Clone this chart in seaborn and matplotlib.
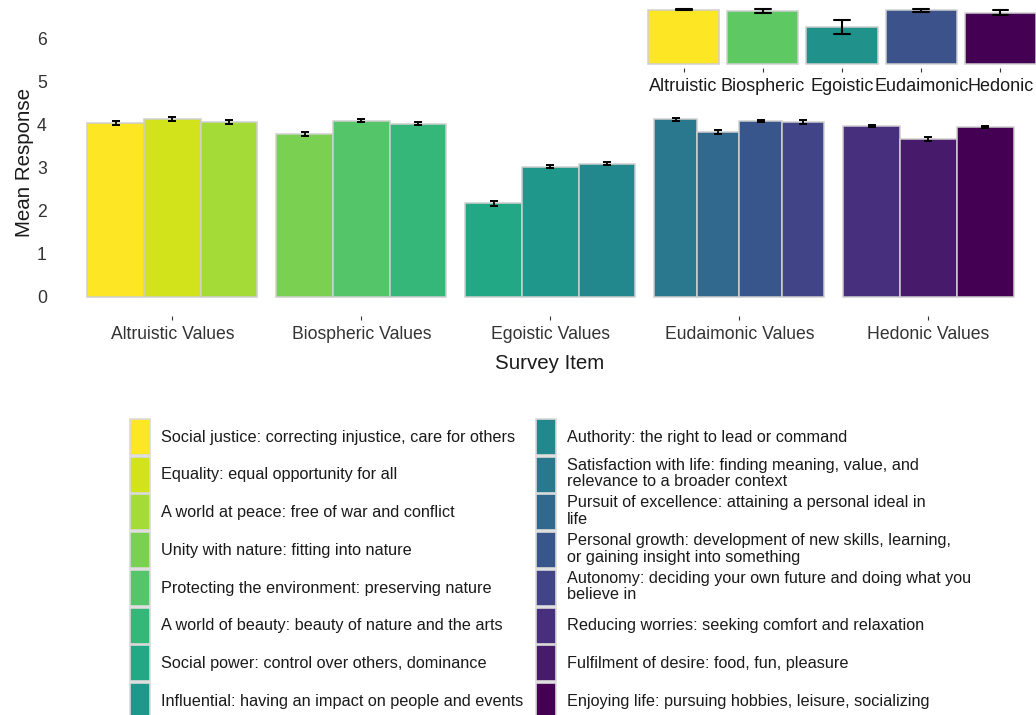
import numpy as np
import pandas as pd
import matplotlib
matplotlib.use("Agg")
import matplotlib.pyplot as plt
import matplotlib.patches as mpatches
import seaborn as sns

# ---- data -------------------------------------------------------------
groups = ["Altruistic Values", "Biospheric Values", "Egoistic Values",
          "Eudaimonic Values", "Hedonic Values"]
group_short = ["Altruistic", "Biospheric", "Egoistic", "Eudaimonic", "Hedonic"]

item_group = (["Altruistic Values"] * 3 + ["Biospheric Values"] * 3 +
              ["Egoistic Values"] * 3 + ["Eudaimonic Values"] * 4 +
              ["Hedonic Values"] * 3)

item_labels = [
    "Social justice: correcting injustice, care for others",
    "Equality: equal opportunity for all",
    "A world at peace: free of war and conflict",
    "Unity with nature: fitting into nature",
    "Protecting the environment: preserving nature",
    "A world of beauty: beauty of nature and the arts",
    "Social power: control over others, dominance",
    "Influential: having an impact on people and events",
    "Authority: the right to lead or command",
    "Satisfaction with life: finding meaning, value, and\nrelevance to a broader context",
    "Pursuit of excellence: attaining a personal ideal in\nlife",
    "Personal growth: development of new skills, learning,\nor gaining insight into something",
    "Autonomy: deciding your own future and doing what you\nbelieve in",
    "Reducing worries: seeking comfort and relaxation",
    "Fulfilment of desire: food, fun, pleasure",
    "Enjoying life: pursuing hobbies, leisure, socializing",
]

item_means = [4.03, 4.12, 4.06,
              3.78, 4.09, 4.02,
              2.17, 3.02, 3.09,
              4.12, 3.83, 4.08, 4.06,
              3.96, 3.66, 3.94]

item_se = [0.04, 0.04, 0.04,
           0.04, 0.03, 0.03,
           0.06, 0.04, 0.04,
           0.03, 0.05, 0.03, 0.04,
           0.03, 0.05, 0.03]

# ---- styling ----------------------------------------------------------
sns.set_theme(style="white")
plt.rcParams["font.family"] = ["Liberation Sans", "DejaVu Sans"]

cmap = plt.get_cmap("viridis")
item_colors = [cmap(v) for v in np.linspace(1, 0, len(item_labels))]
group_colors = [cmap(v) for v in np.linspace(1, 0, len(groups))]
edge_grey = "#cfcfcf"
text_dark = "#333333"

df = pd.DataFrame({"group": item_group, "item": item_labels,
                   "mean": item_means, "se": item_se})
df["short"] = df["group"].map(dict(zip(groups, group_short)))

# dodge items side by side within each group (total group width 0.9)
dodge_width = 0.9
n_in_group = df.groupby("group", sort=False)["item"].transform("size")
k_in_group = df.groupby("group", sort=False).cumcount()
g_index = df["group"].map({g: i for i, g in enumerate(groups)})
df["x"] = g_index + (k_in_group - (n_in_group - 1) / 2) * dodge_width / n_in_group

W, H = 1036, 715
fig = plt.figure(figsize=(W / 100, H / 100), dpi=100)
fig.patch.set_facecolor("white")


def px_axes(left, top, right, bottom):
    return fig.add_axes([left / W, 1 - bottom / H, (right - left) / W, (bottom - top) / H])


# ---- main grouped bar chart --------------------------------------------
ax = px_axes(59, 8, 1036, 316.2)
palette = dict(zip(item_labels, item_colors))
for g in groups:
    sub = df[df["group"] == g]
    sns.barplot(data=sub, x="x", y="mean", hue="item", palette=palette,
                native_scale=True, width=1.0, errorbar=None,
                edgecolor=edge_grey, linewidth=1.1, saturation=1,
                legend=False, ax=ax)
ax.errorbar(df["x"], df["mean"], yerr=df["se"], fmt="none", ecolor="black",
            elinewidth=1.3, capsize=3.0, capthick=1.4, zorder=5)

ax.set_xlim(-0.6, 4.569)
ax.set_ylim(-0.45, 6.7)
ax.set_xticks(range(len(groups)))
ax.set_xticklabels(groups)
ax.set_yticks(range(7))
sns.despine(ax=ax, left=True, bottom=True)
ax.tick_params(axis="x", bottom=True, length=3.2, width=0.8, color=text_dark,
               pad=4, labelsize=12.7, labelcolor=text_dark)
ax.tick_params(axis="y", left=False, labelsize=12.7, pad=2.8, labelcolor=text_dark)
ax.set_xlabel("Survey Item", fontsize=14.8, color="#1a1a1a")
ax.set_ylabel("Mean Response", fontsize=14.8, color="#1a1a1a")
ax.xaxis.set_label_coords(0.5 + (550 - 547.5) / 977, -0.123)
ax.yaxis.set_label_coords((34 - 59) / 977, 0.5)
ax.grid(False)

# ---- inset: group averages of the item means (± SD) ---------------------
axi = px_axes(644, 4, 1036, 68)
sns.barplot(data=df, x="short", y="mean", hue="short", order=group_short,
            hue_order=group_short, palette=dict(zip(group_short, group_colors)),
            errorbar="sd", capsize=0.2, err_kws={"color": "black", "linewidth": 1.5},
            edgecolor=edge_grey, linewidth=1.1, width=0.9, saturation=1,
            legend=False, ax=axi)
axi.set_xlim(-0.5, 4.449)
axi.set_ylim(-0.275, 4.49)
axi.set_yticks([])
axi.set_xlabel("")
axi.set_ylabel("")
sns.despine(ax=axi, left=True, bottom=True)
axi.tick_params(axis="x", bottom=True, length=3, width=0.8, color=text_dark,
                pad=4.5, labelsize=13, labelcolor="#1a1a1a")
axi.patch.set_alpha(0)

# ---- legend of survey items ---------------------------------------------
fs = 11.7
fs_px = fs * 100 / 72
key_h = 36 / fs_px
# matplotlib shrinks the handle box by a descent term; solve for the full key height
handleheight = (key_h - 0.245) / 0.65
handles = [mpatches.Patch(facecolor=c, edgecolor="#d9d9d9", linewidth=1.2)
           for c in item_colors]
leg = fig.legend(handles, item_labels, loc="upper left",
                 bbox_to_anchor=(130 / W, 1 - 419 / H), ncol=2, frameon=False,
                 fontsize=fs, handlelength=20 / fs_px, handleheight=handleheight,
                 labelspacing=1.7 / fs_px, handletextpad=0.68, columnspacing=0.8,
                 borderpad=0, borderaxespad=0)
for t in leg.get_texts():
    t.set_color("#1a1a1a")
    t.set_linespacing(1.15)

fig.savefig("out.png", dpi=100, facecolor="white")
